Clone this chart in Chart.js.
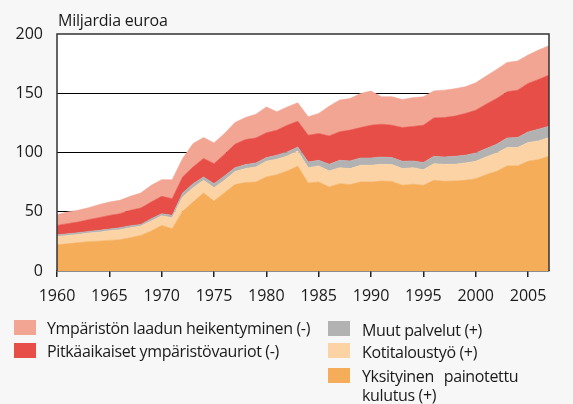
<!DOCTYPE html>
<html>
<head>
<meta charset="utf-8">
<script src="https://cdn.jsdelivr.net/npm/chart.js@4/dist/chart.umd.min.js"></script>
<style>
  html, body { margin: 0; padding: 0; background: #F7F7F7; }
  #wrap { position: relative; width: 573px; height: 404px; overflow: hidden; font-family: "Open Sans", sans-serif; color: #1a1a1a; }
  canvas { position: absolute; left: 0; top: 0; }
  .t { position: absolute; font-size: 16px; line-height: 18.5px; white-space: nowrap; letter-spacing: -0.35px; }
  .box { position: absolute; width: 22px; height: 15px; }
</style>
</head>
<body>
<div id="wrap">
  <canvas id="c" width="573" height="404"></canvas>
  <div class="t" style="left:58px; top:11px; letter-spacing:-0.2px;">Miljardia euroa</div>

  <div class="box" style="left:14px; top:320px; background:#F2A593;"></div>
  <div class="t" style="left:47px; top:319px;">Ympäristön laadun heikentyminen (-)</div>
  <div class="box" style="left:14px; top:343px; background:#E84E48;"></div>
  <div class="t" style="left:47px; top:342px;">Pitkäaikaiset ympäristövauriot (-)</div>

  <div class="box" style="left:328px; top:321px; background:#B2B2B2;"></div>
  <div class="t" style="left:362px; top:321px;">Muut palvelut (+)</div>
  <div class="box" style="left:328px; top:343px; background:#FBD3A4;"></div>
  <div class="t" style="left:362px; top:343px;">Kotitaloustyö (+)</div>
  <div class="box" style="left:328px; top:368px; background:#F5AD5A;"></div>
  <div class="t" style="left:362px; top:367px; word-spacing:6px;">Yksityinen painotettu<br><span style="word-spacing:0">kulutus (+)</span></div>
</div>
<script>
const years = [1960,1961,1962,1963,1964,1965,1966,1967,1968,1969,
               1970,1971,1972,1973,1974,1975,1976,1977,1978,1979,
               1980,1981,1982,1983,1984,1985,1986,1987,1988,1989,
               1990,1991,1992,1993,1994,1995,1996,1997,1998,1999,
               2000,2001,2002,2003,2004,2005,2006,2007];

// Yksityinen painotettu kulutus (+)
const kulutus = [22.1,22.9,23.8,24.7,25.2,25.8,26.4,28.1,30.0,33.7,
                 38.5,35.7,50.3,58.2,65.8,59.0,66.0,72.9,74.6,75.1,
                 79.3,81.3,84.4,88.4,74.3,75.1,70.9,73.7,72.9,75.1,
                 75.1,75.9,75.6,72.3,73.2,72.3,76.5,75.7,76.0,76.5,
                 77.9,81.3,84.1,88.7,88.7,92.6,94.0,96.8];
// Kotitaloustyö (+)
const kotitaloustyo = [7.1,7.1,7.1,7.3,7.6,8.2,8.4,8.4,7.9,8.4,
                       8.1,9.3,12.1,12.1,10.7,11.3,10.5,11.0,11.8,12.7,
                       13.3,13.0,12.7,12.9,12.9,13.6,13.5,13.5,13.5,14.1,
                       14.1,14.1,14.2,14.1,14.0,13.2,14.1,14.3,14.0,14.7,
                       14.7,15.0,15.5,15.5,15.5,15.8,15.8,15.8];
// Muut palvelut (+)
const muutPalvelut = [1.4,1.4,1.4,1.4,1.5,1.4,1.7,1.7,1.4,2.0,
                      1.7,2.0,3.4,3.4,2.8,3.4,3.7,3.3,3.4,3.4,
                      3.1,3.4,3.4,3.4,4.8,4.7,5.7,6.2,6.5,6.2,
                      6.2,6.2,5.9,6.2,5.7,6.0,6.2,6.3,6.8,6.5,
                      7.0,7.0,7.4,8.1,8.4,9.0,9.9,9.6];
// Pitkäaikaiset ympäristövauriot (-)
const pitkaaikaiset = [7.9,8.5,9.0,9.9,10.7,11.5,11.8,13.0,13.8,14.1,
                       14.7,14.0,13.5,14.1,15.6,16.9,18.3,19.8,21.1,21.1,
                       20.9,21.1,22.5,21.7,22.6,22.6,23.9,24.1,26.0,25.6,
                       27.6,27.7,27.3,28.4,29.1,31.5,32.4,33.2,33.9,35.2,
                       36.1,37.5,38.6,38.9,40.0,40.9,42.0,43.1];
// Ympäristön laadun heikentyminen (-)
const laatu = [9.0,9.9,9.9,10.1,11.0,11.3,11.3,11.8,12.7,14.1,
               14.1,16.0,15.6,19.7,17.7,17.5,17.5,18.3,18.6,20.0,
               21.9,15.5,15.5,15.5,15.5,17.0,25.1,26.7,26.7,28.8,
               28.8,23.1,24.0,23.7,24.3,24.0,22.8,23.1,23.1,22.5,
               23.1,23.7,24.5,24.8,24.6,23.9,24.8,24.8];

const xTicks = [1960,1965,1970,1975,1980,1985,1990,1995,2000,2005];
const yTicks = [0,50,100,150,200];

const series = [
  { label: 'Yksityinen painotettu kulutus (+)', values: kulutus, color: '#F5AD5A' },
  { label: 'Kotitaloustyö (+)', values: kotitaloustyo, color: '#FBD3A4' },
  { label: 'Muut palvelut (+)', values: muutPalvelut, color: '#B2B2B2' },
  { label: 'Pitkäaikaiset ympäristövauriot (-)', values: pitkaaikaiset, color: '#E84E48' },
  { label: 'Ympäristön laadun heikentyminen (-)', values: laatu, color: '#F2A593' }
];

const font = { family: '"Open Sans", sans-serif', size: 16 };

const plotBg = {
  id: 'plotBg',
  beforeDraw(chart) {
    const { ctx, chartArea: a } = chart;
    ctx.save();
    ctx.fillStyle = '#FFFFFF';
    ctx.fillRect(a.left, a.top, a.right - a.left, a.bottom - a.top);
    ctx.restore();
  },
  afterDraw(chart) {
    const { ctx, chartArea: a } = chart;
    ctx.save();
    ctx.strokeStyle = '#333333';
    ctx.lineWidth = 1.5;
    ctx.beginPath();
    ctx.moveTo(a.left, a.bottom);
    ctx.lineTo(a.left, a.top);
    ctx.lineTo(a.right, a.top);
    ctx.lineTo(a.right, a.bottom);
    ctx.stroke();
    ctx.restore();
  }
};

new Chart(document.getElementById('c'), {
  type: 'line',
  data: {
    datasets: series.map((s, i) => ({
      label: s.label,
      data: years.map((y, k) => ({ x: y, y: s.values[k] })),
      backgroundColor: s.color,
      borderColor: s.color,
      borderWidth: 0.6,
      pointRadius: 0,
      tension: 0,
      fill: i === 0 ? 'origin' : '-1'
    }))
  },
  options: {
    responsive: false,
    animation: false,
    devicePixelRatio: 1,
    layout: { padding: { left: 0, right: 24, top: 34, bottom: 93 } },
    plugins: { legend: { display: false }, tooltip: { enabled: false } },
    scales: {
      x: {
        type: 'linear',
        min: 1960,
        max: 2007,
        afterBuildTicks: s => { s.ticks = xTicks.map(v => ({ value: v })); },
        afterFit: s => { s.height = 40; },
        grid: { drawOnChartArea: false, drawTicks: true, tickLength: 6, color: '#222', lineWidth: 1.5 },
        border: { display: true, color: '#222', width: 1.5 },
        ticks: { font: font, color: '#1a1a1a', padding: 10, maxRotation: 0, autoSkip: false, callback: v => String(v) }
      },
      y: {
        stacked: true,
        min: 0,
        max: 200,
        afterBuildTicks: s => { s.ticks = yTicks.map(v => ({ value: v })); },
        afterFit: s => { s.width = 57; },
        grid: {
          drawTicks: false,
          lineWidth: 1,
          color: c => (c.tick && [50, 100, 150].includes(c.tick.value)) ? '#000' : 'rgba(0,0,0,0)'
        },
        border: { display: false },
        ticks: { font: font, color: '#1a1a1a', padding: 14, callback: v => String(v) }
      }
    }
  },
  plugins: [plotBg]
});
</script>
</body>
</html>
